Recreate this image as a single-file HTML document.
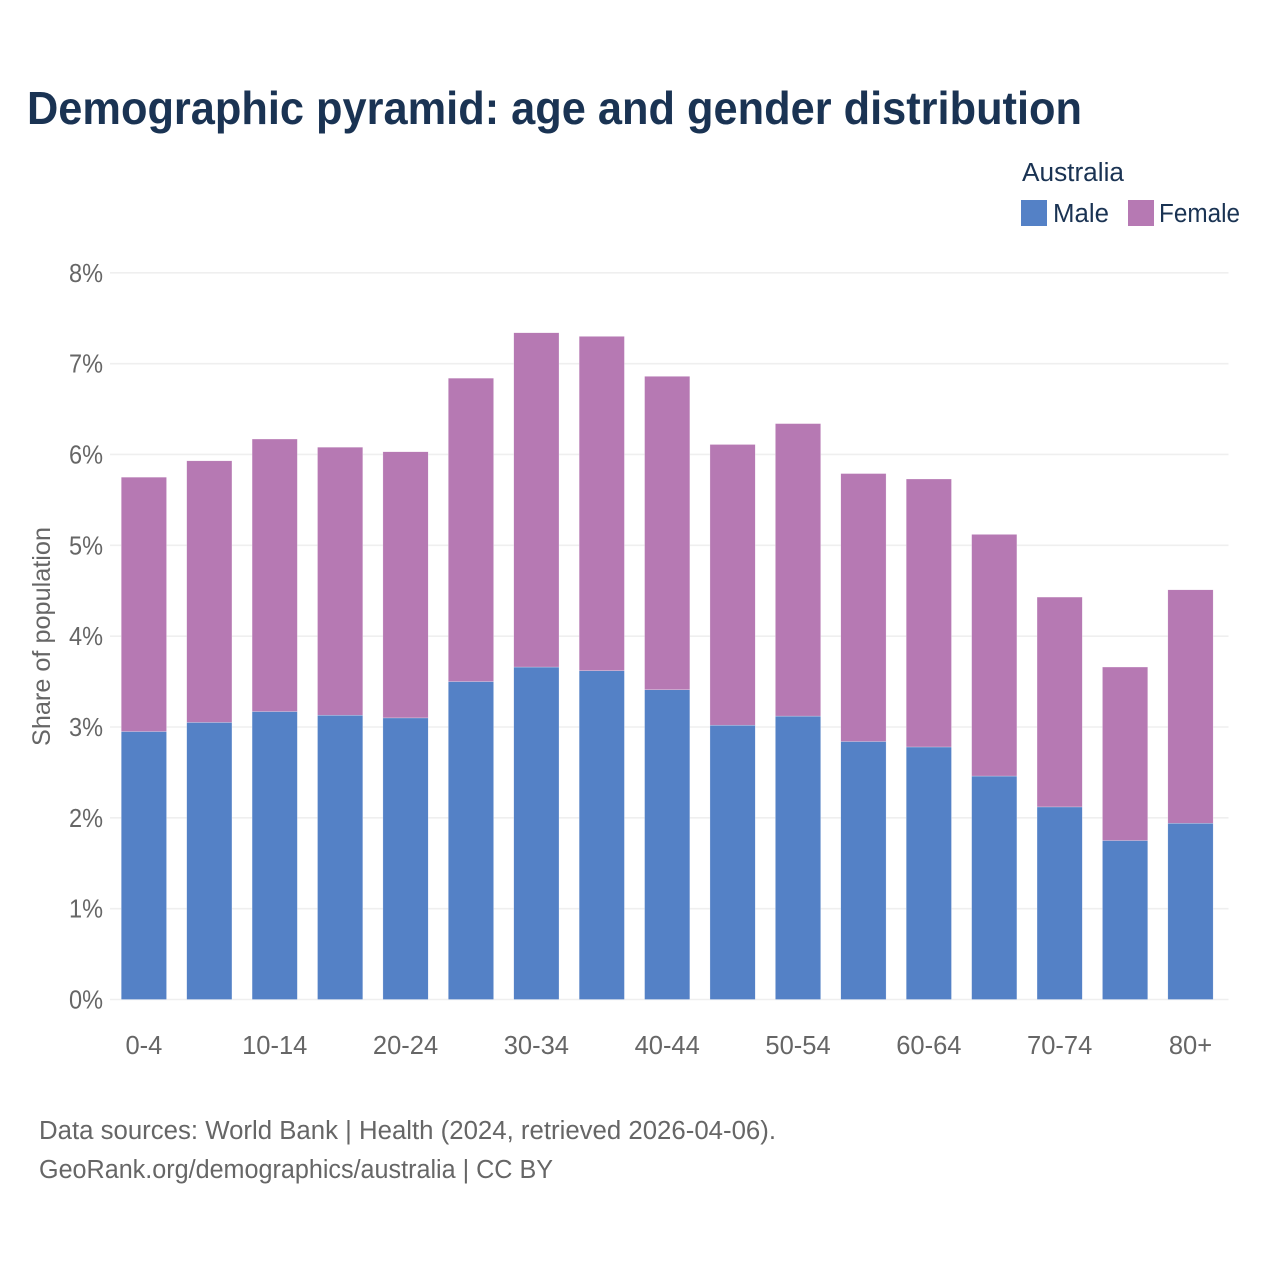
<!DOCTYPE html>
<html lang="en">
<head>
<meta charset="utf-8">
<title>Demographic pyramid: age and gender distribution</title>
<style>
html,body{margin:0;padding:0;background:#fff;}
svg{display:block;font-family:"Liberation Sans",sans-serif;}
</style>
</head>
<body>
<svg id="chart" width="1280" height="1280" viewBox="0 0 1280 1280" xmlns="http://www.w3.org/2000/svg">
<rect x="0" y="0" width="1280" height="1280" fill="#ffffff"/>
<text x="27" y="124" font-size="46" font-weight="700" fill="#1a3353" textLength="1055" lengthAdjust="spacingAndGlyphs">Demographic pyramid: age and gender distribution</text>
<g>
<text x="1022" y="181" font-size="25.5" fill="#1a3353" textLength="102" lengthAdjust="spacingAndGlyphs">Australia</text>
<rect x="1021" y="200" width="26" height="26" fill="#5481c6"/>
<text x="1053" y="222" font-size="25.5" fill="#1a3353" textLength="56" lengthAdjust="spacingAndGlyphs">Male</text>
<rect x="1128" y="200" width="26" height="26" fill="#b679b3"/>
<text x="1159" y="222" font-size="25.5" fill="#1a3353" textLength="81" lengthAdjust="spacingAndGlyphs">Female</text>
</g>
<g id="grid"></g>
<g id="y-ticks"></g>
<g id="bars"></g>
<g id="x-ticks"></g>
<text transform="translate(50,636.5) rotate(-90)" text-anchor="middle" font-size="25" fill="#666666" textLength="219" lengthAdjust="spacingAndGlyphs">Share of population</text>
<text x="39" y="1139" font-size="25.5" fill="#666666" textLength="737" lengthAdjust="spacingAndGlyphs">Data sources: World Bank | Health (2024, retrieved 2026-04-06).</text>
<text x="39" y="1178" font-size="25.5" fill="#666666" textLength="514" lengthAdjust="spacingAndGlyphs">GeoRank.org/demographics/australia | CC BY</text>
</svg>
<script>
const categories = ["0-4","5-9","10-14","15-19","20-24","25-29","30-34","35-39","40-44","45-49","50-54","55-59","60-64","65-69","70-74","75-79","80+"];
const maleValues = [2.95,3.05,3.17,3.13,3.10,3.50,3.66,3.62,3.41,3.02,3.12,2.84,2.78,2.46,2.12,1.75,1.94];
const femaleValues = [2.80,2.88,3.00,2.95,2.93,3.34,3.68,3.68,3.45,3.09,3.22,2.95,2.95,2.66,2.31,1.91,2.57];
const yTickValues = [0,1,2,3,4,5,6,7,8];
const xTickLabels = ["0-4","10-14","20-24","30-34","40-44","50-54","60-64","70-74","80+"];

const NS = "http://www.w3.org/2000/svg";
const plot = {left:111.2, right:1223.2, bottom:999.5, top:272.8, yMax:8};
const barRatio = 0.692;

function yScale(v){
  return plot.bottom - (v / plot.yMax) * (plot.bottom - plot.top);
}
function bandStep(){
  return (plot.right - plot.left) / categories.length;
}
function xCenter(i){
  return plot.left + bandStep() * (i + 0.5);
}
function make(tag, parent, attrs, text){
  const el = document.createElementNS(NS, tag);
  for (const k in attrs) el.setAttribute(k, attrs[k]);
  if (text !== undefined) el.textContent = text;
  parent.appendChild(el);
  return el;
}

const gridG = document.getElementById("grid");
const yG = document.getElementById("y-ticks");
const barsG = document.getElementById("bars");
const xG = document.getElementById("x-ticks");

yTickValues.forEach(function(v){
  const line = make("line", gridG, {x1:110, x2:1228.5, y1:yScale(v), y2:yScale(v), stroke:"#efefef", "stroke-width":1.6});
  
  
  const label = make("text", yG, {x:103, y:yScale(v) + 9, "text-anchor":"end", "font-size":25.5, fill:"#666666", textLength:34, lengthAdjust:"spacingAndGlyphs"}, v + "%");
  
  
});

categories.forEach(function(cat, i){
  const w = bandStep() * barRatio;
  const x = xCenter(i) - w / 2;
  const m = maleValues[i];
  const f = femaleValues[i];
  const maleBar = make("rect", barsG, {x:x, y:yScale(m), width:w, height:yScale(0) - yScale(m), fill:"#5481c6", stroke:"#ffffff", "stroke-width":0.4, "stroke-opacity":0.6});
  
  
  const femaleBar = make("rect", barsG, {x:x, y:yScale(m + f), width:w, height:yScale(m) - yScale(m + f), fill:"#b679b3", stroke:"#ffffff", "stroke-width":0.4, "stroke-opacity":0.6});
  
  
});

xTickLabels.forEach(function(lab){
  const i = categories.indexOf(lab);
  const t = make("text", xG, {x:xCenter(i), y:1054, "text-anchor":"middle", "font-size":25.5, fill:"#666666"}, lab);
  
  
});
</script>
</body>
</html>
